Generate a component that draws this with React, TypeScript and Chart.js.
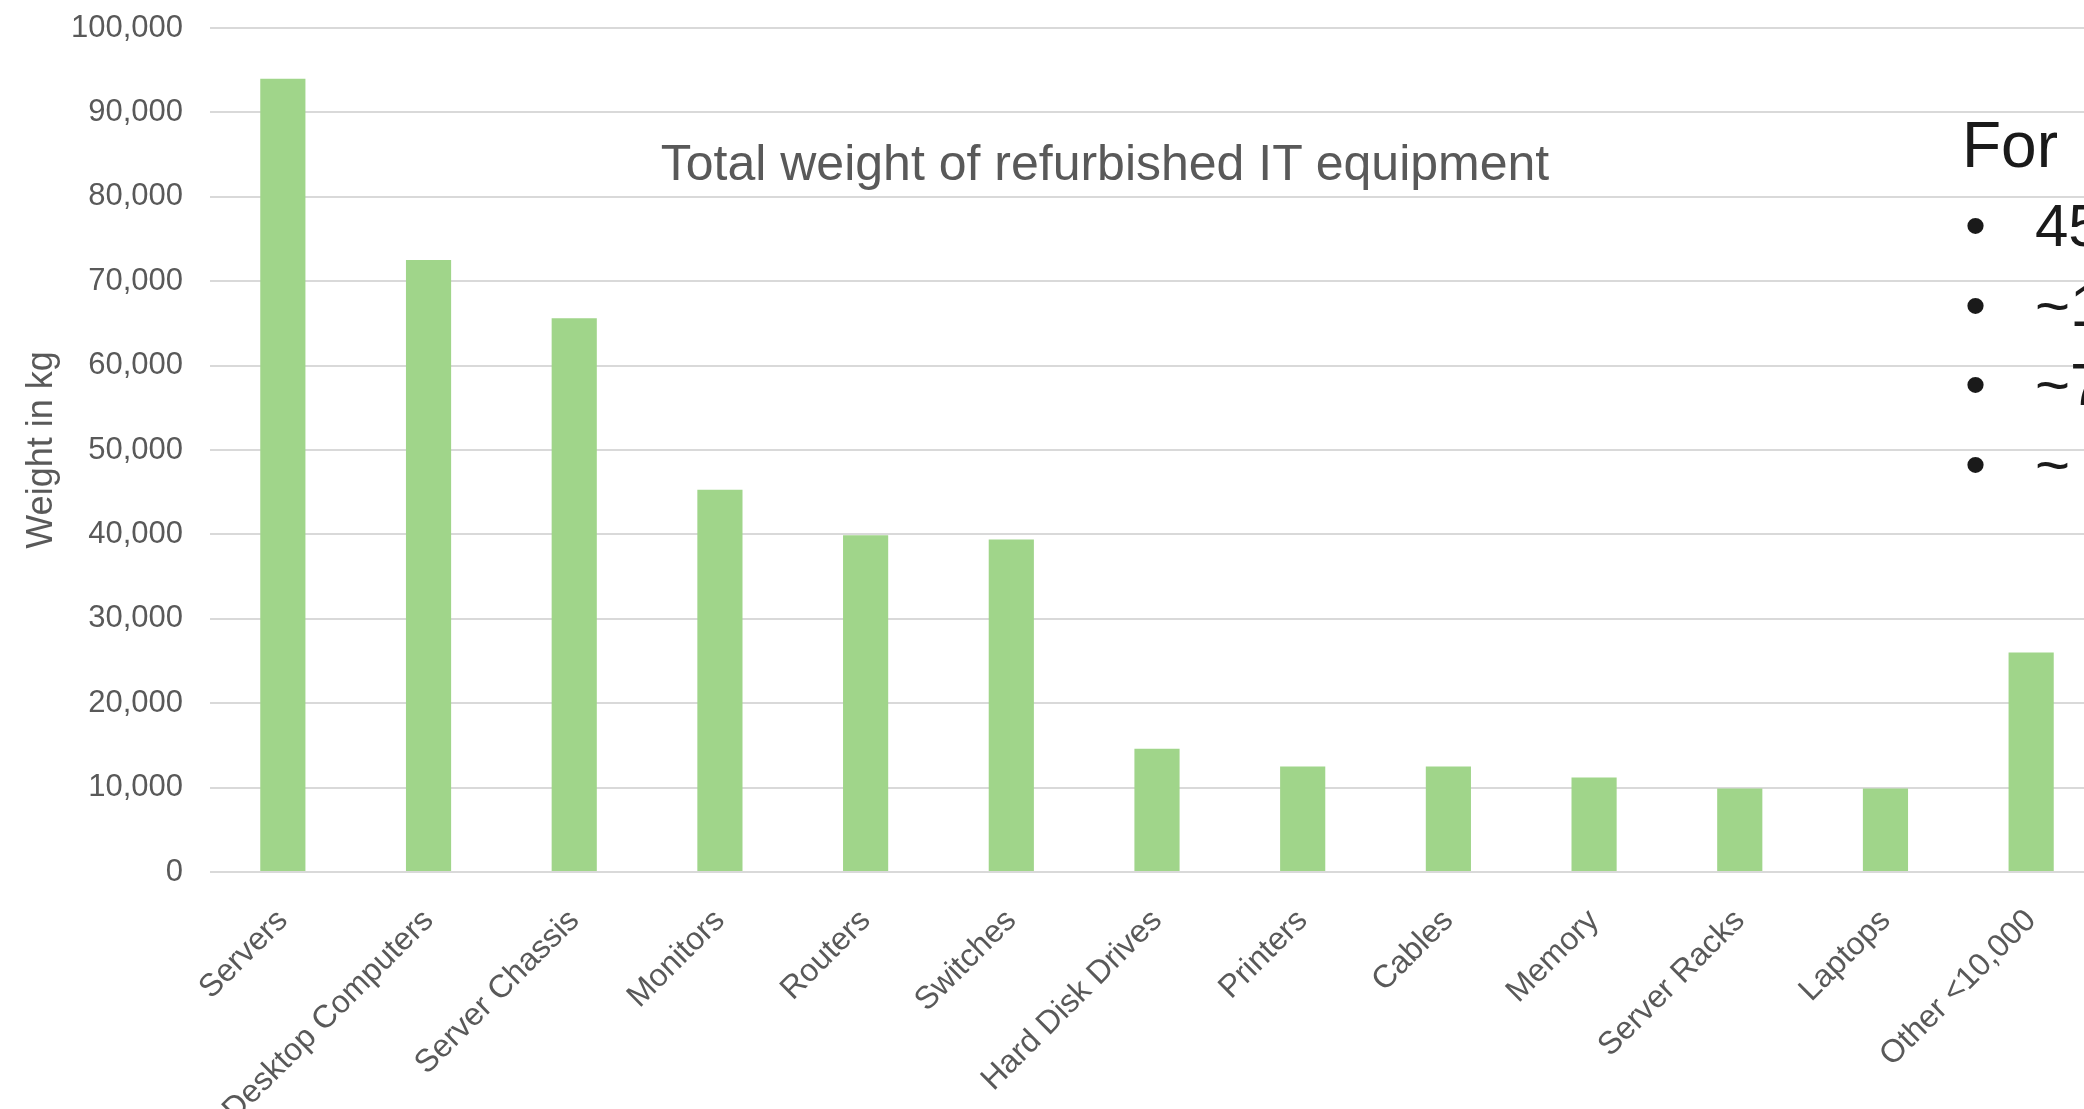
import React, { useEffect, useRef } from "react";
import { Chart, registerables } from "chart.js";

Chart.register(...registerables);

const categories = [
  "Servers",
  "Desktop Computers",
  "Server Chassis",
  "Monitors",
  "Routers",
  "Switches",
  "Hard Disk Drives",
  "Printers",
  "Cables",
  "Memory",
  "Server Racks",
  "Laptops",
  "Other <10,000",
];

const weightKg = [94000, 72500, 65600, 45300, 39900, 39400, 14600, 12500, 12500, 11200, 9900, 9900, 26000];

const yTickMin = 0;
const yTickMax = 100000;
const yTickStep = 10000;

const chartTitle = "Total weight of refurbished IT equipment";
const yAxisTitle = "Weight in kg";
const sideHeading = "For";
const sideBullets = ["45", "~1", "~7", "~"];

const FONT = "'Liberation Sans', Arial, sans-serif";
const GRAY = "#595959";

export default function App() {
  const canvasRef = useRef<HTMLCanvasElement | null>(null);

  useEffect(() => {
    const canvas = canvasRef.current;
    if (!canvas) return;
    const chart = new Chart(canvas, {
      type: "bar",
      data: {
        labels: categories,
        datasets: [
          {
            label: "Weight",
            data: weightKg,
            backgroundColor: "#a0d58a",
            borderWidth: 0,
            categoryPercentage: 1,
            barPercentage: 0.31,
          },
        ],
      },
      options: {
        responsive: false,
        animation: false,
        devicePixelRatio: 1,
        layout: { padding: { top: 28, left: 0, right: 0, bottom: 0 } },
        plugins: {
          legend: { display: false },
          title: { display: false },
          tooltip: { enabled: false },
        },
        scales: {
          x: {
            grid: { display: false },
            border: { display: false },
            ticks: {
              autoSkip: false,
              minRotation: 45,
              maxRotation: 45,
              padding: 22,
              color: GRAY,
              font: { family: FONT, size: 32 },
            },
            afterFit: (scale: any) => {
              scale.height = 1160 - 872;
            },
          },
          y: {
            min: yTickMin,
            max: yTickMax,
            grid: { color: "#d9d9d9", lineWidth: 2, drawTicks: false },
            border: { display: false },
            ticks: {
              stepSize: yTickStep,
              padding: 27,
              color: GRAY,
              font: { family: FONT, size: 31 },
              callback: (v: any) => Number(v).toLocaleString("en-US"),
            },
            title: {
              display: true,
              text: yAxisTitle,
              color: GRAY,
              font: { family: FONT, size: 36, weight: "normal" },
              padding: { top: 20, bottom: 0 },
            },
            afterFit: (scale: any) => {
              scale.width = 210;
              scale.paddingTop = 0;
              scale.paddingBottom = 0;
            },
          },
        },
      },
    });
    return () => chart.destroy();
  }, []);

  const bulletTops = [196, 276, 355, 435];

  return (
    <div
      style={{
        position: "fixed",
        left: 0,
        top: 0,
        width: 2084,
        height: 1109,
        overflow: "hidden",
        background: "#ffffff",
      }}
    >
      <canvas ref={canvasRef} width={2104} height={1160} style={{ position: "absolute", left: 0, top: 0 }} />
      <div
        style={{
          position: "absolute",
          left: 1105,
          top: 138,
          transform: "translateX(-50%)",
          whiteSpace: "nowrap",
          fontFamily: FONT,
          fontSize: 50,
          lineHeight: 1,
          color: GRAY,
        }}
      >
        {chartTitle}
      </div>
      <div
        style={{
          position: "absolute",
          left: 1962,
          top: 113,
          whiteSpace: "nowrap",
          fontFamily: FONT,
          fontSize: 64,
          lineHeight: 1,
          color: "#1a1a1a",
        }}
      >
        {sideHeading}
      </div>
      {sideBullets.map((t, i) => (
        <div
          key={i}
          style={{
            position: "absolute",
            left: 1965,
            top: bulletTops[i],
            whiteSpace: "nowrap",
            fontFamily: FONT,
            fontSize: 60,
            lineHeight: 1,
            color: "#1a1a1a",
          }}
        >
          <span style={{ display: "inline-block", width: 70 }}>•</span>
          <span>{t}</span>
        </div>
      ))}
    </div>
  );
}
